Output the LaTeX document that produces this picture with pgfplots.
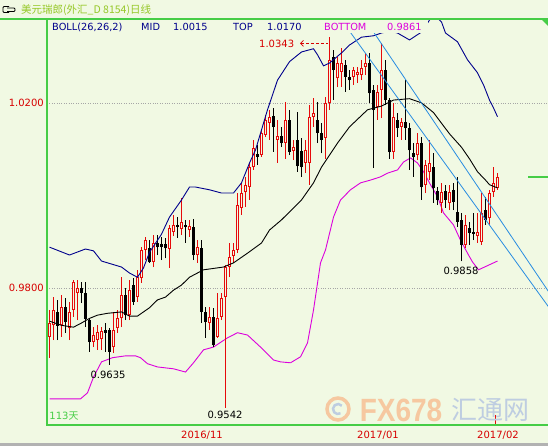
\documentclass[border=0pt]{standalone}
\usepackage{pgfplots}
\pgfplotsset{compat=1.18}
\usepackage{pgfplotstable}
\usepackage{fontspec}
\setmainfont{DejaVu Sans}
\newfontfamily\cjk{Noto Sans CJK SC}
\newfontfamily\lib{Liberation Sans}
\usetikzlibrary{arrows.meta}

\definecolor{bgc}{RGB}{241,249,227}
\definecolor{framec}{RGB}{70,205,70}
\definecolor{cred}{RGB}{230,10,10}
\definecolor{axred}{RGB}{215,0,0}
\definecolor{navyc}{RGB}{0,0,140}
\definecolor{magen}{RGB}{220,0,220}
\definecolor{tblue}{RGB}{40,140,225}
\definecolor{titlec}{RGB}{150,200,40}
\definecolor{wmor}{RGB}{246,200,160}
\definecolor{wmbl}{RGB}{190,205,225}

% rising days (red, hollow): i open high low close
\pgfplotstableread{
i o h l c
0 0.9695 0.9753 0.9650 0.9725
1 0.9720 0.9781 0.9688 0.9753
3 0.9720 0.9785 0.9695 0.9760
5 0.9714 0.9771 0.9688 0.9749
6 0.9753 0.9818 0.9738 0.9814
7 0.9790 0.9818 0.9731 0.9800
11 0.9684 0.9716 0.9673 0.9699
12 0.9688 0.9720 0.9667 0.9706
13 0.9690 0.9716 0.9667 0.9708
16 0.9673 0.9749 0.9660 0.9710
17 0.9714 0.9753 0.9704 0.9735
18 0.9735 0.9824 0.9716 0.9785
20 0.9742 0.9818 0.9731 0.9796
22 0.9781 0.9840 0.9771 0.9824
23 0.9822 0.9889 0.9812 0.9883
24 0.9883 0.9911 0.9861 0.9904
26 0.9857 0.9915 0.9846 0.9898
30 0.9885 0.9937 0.9844 0.9930
31 0.9922 0.9959 0.9913 0.9937
33 0.9928 0.9995 0.9915 0.9944
35 0.9926 0.9948 0.9911 0.9935
37 0.9872 0.9904 0.9855 0.9889
40 0.9725 0.9760 0.9710 0.9738
42 0.9695 0.9790 0.9693 0.9735
43 0.9738 0.9790 0.9731 0.9779
44 0.9781 0.9850 0.9542 0.9846
45 0.9846 0.9898 0.9824 0.9868
46 0.9870 0.9898 0.9855 0.9883
47 0.9883 1.0006 0.9876 0.9980
48 0.9974 1.0028 0.9959 1.0006
49 1.0008 1.0041 0.9976 1.0024
50 1.0019 1.0071 0.9991 1.0062
51 1.0062 1.0121 1.0056 1.0103
53 1.0088 1.0142 1.0084 1.0136
54 1.0132 1.0175 1.0127 1.0164
55 1.0158 1.0186 1.0121 1.0171
57 1.0121 1.0164 1.0071 1.0129
59 1.0114 1.0203 1.0080 1.0164
61 1.0097 1.0121 1.0077 1.0105
64 1.0071 1.0121 1.0049 1.0099
65 1.0071 1.0196 1.0024 1.0171
66 1.0171 1.0212 1.0149 1.0180
69 1.0125 1.0214 1.0080 1.0201
70 1.0201 1.0343 1.0186 1.0294
72 1.0254 1.0300 1.0235 1.0287
73 1.0268 1.0320 1.0235 1.0287
76 1.0257 1.0279 1.0240 1.0272
77 1.0261 1.0279 1.0244 1.0268
78 1.0261 1.0294 1.0250 1.0276
79 1.0279 1.0309 1.0261 1.0287
82 1.0192 1.0240 1.0164 1.0225
83 1.0229 1.0331 1.0168 1.0272
86 1.0095 1.0201 1.0080 1.0171
88 1.0149 1.0168 1.0121 1.0160
92 1.0088 1.0136 1.0077 1.0114
94 1.0024 1.0077 1.0006 1.0067
95 1.0052 1.0121 1.0034 1.0071
98 0.9985 1.0028 0.9963 1.0009
100 0.9985 1.0024 0.9969 1.0009
104 0.9894 0.9959 0.9887 0.9937
107 0.9913 0.9963 0.9898 0.9922
108 0.9900 1.0006 0.9894 0.9963
110 0.9952 1.0013 0.9937 1.0006
111 1.0009 1.0062 0.9998 1.0028
112 1.0017 1.0049 1.0013 1.0041
}\upcandles

% falling days (black, filled)
\pgfplotstableread{
i o h l c
2 0.9749 0.9775 0.9688 0.9720
4 0.9760 0.9779 0.9704 0.9727
8 0.9800 0.9814 0.9768 0.9790
9 0.9790 0.9814 0.9716 0.9735
10 0.9731 0.9735 0.9663 0.9684
14 0.9710 0.9725 0.9663 0.9704
15 0.9710 0.9714 0.9635 0.9663
19 0.9785 0.9800 0.9731 0.9742
21 0.9807 0.9822 0.9764 0.9771
25 0.9887 0.9904 0.9855 0.9857
27 0.9898 0.9915 0.9872 0.9889
28 0.9895 0.9911 0.9861 0.9889
29 0.9895 0.9909 0.9865 0.9887
32 0.9937 0.9954 0.9909 0.9933
34 0.9937 0.9948 0.9898 0.9933
36 0.9933 0.9950 0.9861 0.9872
38 0.9887 0.9904 0.9725 0.9749
39 0.9749 0.9760 0.9693 0.9727
41 0.9738 0.9758 0.9673 0.9677
52 1.0090 1.0110 1.0067 1.0084
56 1.0171 1.0190 1.0095 1.0149
58 1.0129 1.0149 1.0105 1.0114
60 1.0164 1.0186 1.0088 1.0095
62 1.0121 1.0182 1.0052 1.0064
63 1.0097 1.0125 1.0041 1.0062
67 1.0164 1.0203 1.0114 1.0136
68 1.0136 1.0158 1.0092 1.0121
71 1.0300 1.0315 1.0207 1.0272
74 1.0283 1.0294 1.0225 1.0257
75 1.0257 1.0272 1.0229 1.0250
80 1.0287 1.0309 1.0201 1.0222
81 1.0229 1.0240 1.0060 1.0186
84 1.0272 1.0294 1.0196 1.0207
85 1.0207 1.0212 1.0080 1.0095
87 1.0164 1.0180 1.0127 1.0147
89 1.0160 1.0250 1.0121 1.0147
90 1.0147 1.0158 1.0056 1.0099
91 1.0092 1.0114 1.0041 1.0084
93 1.0114 1.0127 0.9991 1.0019
96 1.0062 1.0092 0.9985 1.0017
97 1.0009 1.0019 0.9980 0.9991
99 1.0009 1.0024 0.9974 0.9991
101 1.0013 1.0028 0.9969 0.9987
102 0.9965 1.0041 0.9933 0.9944
103 0.9948 0.9963 0.9858 0.9894
105 0.9930 0.9944 0.9894 0.9920
106 0.9922 0.9963 0.9904 0.9918
109 0.9969 0.9998 0.9937 0.9948
}\downcandles

\begin{document}
\begin{tikzpicture}[x=1pt,y=1pt]
\fill[bgc] (0,0) rectangle (548,446);
\path[use as bounding box] (0,0) rectangle (548,446);

\begin{axis}[at={(47pt,21pt)}, anchor=south west, scale only axis,
  width=501pt, height=406pt,
  xmin=-0.625, xmax=124.625, ymin=0.95045, ymax=1.03823,
  axis line style={draw=none}, xtick=\empty,
  ytick={0.98,1.02}, yticklabels={0.9800,1.0200},
  major tick length=0pt,
  yticklabel style={text=axred, font=\fontsize{10}{12}\selectfont, inner sep=0pt, xshift=-3pt},
  ymajorgrids, grid style={gray!70, dotted, line width=0.6pt}]

% Bollinger bands (lower first)
\addplot[magen, line width=0.9pt, mark=none] coordinates {
(0,0.9561) (7.75,0.9561) (9.5,0.9574) (11,0.9608) (13,0.9641) (15.75,0.9650) (19,0.9654) (21.5,0.9654) (22.75,0.9650) (24.5,0.9637) (27,0.9630) (31,0.9626) (34,0.9619) (36,0.9639) (38.5,0.9667) (41,0.9673) (44.5,0.9693) (47,0.9704) (49.5,0.9699) (52.75,0.9673) (56,0.9645) (57.75,0.9641) (60.25,0.9639) (62.75,0.9652) (64.5,0.9682) (66,0.9753) (67.75,0.9855) (69,0.9883) (71,0.9954) (72.75,0.9991) (75.25,1.0013) (77.75,1.0028) (80.25,1.0034) (82.75,1.0041) (84.5,1.0049) (87,1.0056) (88.5,1.0073) (90.25,1.0082) (92,1.0071) (93.5,1.0052) (95.25,1.0024) (97,0.9998) (98.5,0.9963) (101,0.9937) (102.75,0.9904) (104.5,0.9876) (105.75,0.9857) (107.25,0.9840) (109.75,0.9850) (112,0.9859)};

% rising candles: wick, red body, hollow inside
\addplot[cred, line width=1pt, mark=none, forget plot, quiver={u=0, v=\thisrow{h}-\thisrow{l}}]
  table[x=i, y=l] {\upcandles};
\addplot[cred, line width=3pt, mark=none, forget plot, quiver={u=0, v=\thisrow{c}-\thisrow{o}}]
  table[x=i, y=o] {\upcandles};
\addplot[bgc, line width=1pt, mark=none, forget plot, quiver={u=0, v=\thisrow{c}-\thisrow{o}-0.00044}]
  table[x=i, y expr=\thisrow{o}+0.00022] {\upcandles};
% falling candles
\addplot[black, line width=1pt, mark=none, forget plot, quiver={u=0, v=\thisrow{h}-\thisrow{l}}]
  table[x=i, y=l] {\downcandles};
\addplot[black, line width=3pt, mark=none, forget plot, quiver={u=0, v=\thisrow{o}-\thisrow{c}+0.0001}]
  table[x=i, y expr=\thisrow{c}-0.00005] {\downcandles};

\addplot[navyc, line width=0.9pt, mark=none] coordinates {
(0,0.9889) (5,0.9872) (9,0.9885) (11,0.9881) (13,0.9859) (18,0.9846) (20,0.9833) (22,0.9824) (23.5,0.9844) (25,0.9878) (28,0.9917) (30,0.9954) (33,0.9991) (35,1.0019) (36.5,1.0019) (40,1.0013) (43,1.0006) (46,1.0006) (48,1.0028) (50,1.0071) (51.5,1.0099) (54.5,1.0186) (57,1.0250) (60,1.0290) (63,1.0311) (66,1.0318) (67,1.0305) (68.5,1.0281) (70,1.0287) (73,1.0309) (75,1.0326) (78,1.0343) (81,1.0346) (83,1.0352) (85,1.0356) (87,1.0352) (90,1.0337) (93,1.0354) (96,1.0393) (98,1.0376) (99,1.0352) (102,1.0333) (104.5,1.0294) (107,1.0266) (108.5,1.0240) (110,1.0207) (111,1.0190) (112,1.0171)};
\addplot[black, line width=0.9pt, mark=none] coordinates {
(0,0.9729) (3,0.9720) (6,0.9716) (8,0.9725) (10,0.9735) (12,0.9742) (14.5,0.9746) (18,0.9749) (20,0.9740) (22,0.9740) (25,0.9758) (27,0.9775) (29,0.9781) (31,0.9796) (33,0.9807) (35,0.9824) (38.5,0.9840) (43.5,0.9846) (46,0.9855) (49.5,0.9876) (53,0.9898) (55,0.9926) (58,0.9948) (63,0.9991) (66,1.0028) (68,1.0062) (72,1.0114) (75,1.0149) (79.5,1.0186) (83,1.0194) (86,1.0207) (90,1.0210) (93,1.0201) (96,1.0180) (100,1.0134) (103,1.0105) (105,1.0080) (107,1.0052) (109,1.0034) (110,1.0024) (112,1.0017)};

% trend channel
\addplot[tblue, line width=0.8pt, mark=none] coordinates {(73,1.0380) (124.75,0.9760)};
\addplot[tblue, line width=0.8pt, mark=none] coordinates {(79,1.0380) (124.75,0.9793)};
\end{axis}

% frame
\draw[framec, line width=1.2pt] (0,427) -- (548,427);
\draw[framec, line width=1.2pt] (47,427) -- (47,21) -- (548,21);
\fill[framec] (541,427) -- (548,427) -- (548,420) -- cycle;
\fill[gray!60] (0,0) rectangle (548,3);
\draw[framec, line width=1.5pt] (528,269) -- (548,269);
\draw[cred, line width=1pt] (495.5,31) -- (495.5,22);

% title row
\draw[black, line width=0.9pt, rounded corners=1pt] (9,439.5) -- (3,439.5) -- (3,433.5) -- (9,433.5);
\draw[black, line width=0.9pt, rounded corners=1pt] (7,438) -- (15,438) -- (15,434.5) -- (7,434.5);
\node[anchor=west, text=titlec, font=\cjk\fontsize{10.5}{12}\selectfont, inner sep=0pt] at (21,436) {美元瑞郎(外汇\_D 8154)日线};

% BOLL row (opaque boxes cover the lines beneath)
\fill[bgc] (50,413) rectangle (137,426.3);
\fill[bgc] (139,413) rectangle (215,426.3);
\fill[bgc] (231,413) rectangle (309,426.3);
\fill[bgc] (322,413) rectangle (428,426.3);
\begin{scope}[every node/.style={anchor=west, inner sep=0pt, font=\fontsize{9.8}{12}\selectfont}]
\node[text=navyc] at (52,419) {BOLL(26,26,2)};
\node[text=navyc] at (141,419) {MID};
\node[text=navyc] at (173,419) {1.0015};
\node[text=navyc] at (233,419) {TOP};
\node[text=navyc] at (267,419) {1.0170};
\node[text=magen] at (324,419) {BOTTOM};
\node[text=magen] at (387,419) {0.9861};
\end{scope}

% annotations
\node[anchor=west, text=axred, inner sep=0pt, font=\fontsize{10}{12}\selectfont] at (259,402) {1.0343};
\draw[axred, densely dashed, line width=0.7pt, {Straight Barb[length=3pt]}-] (300,402.5) -- (328,402.5);
\node[text=black, inner sep=0pt, font=\fontsize{10}{12}\selectfont] at (108,71) {0.9635};
\node[text=black, inner sep=0pt, font=\fontsize{10}{12}\selectfont] at (225,31) {0.9542};
\node[text=black, inner sep=0pt, font=\fontsize{10}{12}\selectfont] at (461,175) {0.9858};
\node[text=framec, inner sep=0pt, font=\fontsize{10}{12}\selectfont] at (64,30) {113\cjk 天};

% dates
\node[text=axred, inner sep=0pt, font=\fontsize{10}{12}\selectfont] at (202,11) {2016/11};
\node[text=axred, inner sep=0pt, font=\fontsize{10}{12}\selectfont] at (378,11) {2017/01};
\node[text=axred, inner sep=0pt, font=\fontsize{10}{12}\selectfont] at (498,11) {2017/02};

% watermark
\draw[wmor, line width=3.5pt] (338,37) circle (11);
\draw[wmbl, line width=2.5pt] (338,37) ++(40:5) arc (40:300:5);
\node[text=wmor, inner sep=0pt, font=\lib\bfseries\fontsize{28}{30}\selectfont, yscale=1.15] at (401,36) {FX678};
\node[text=wmbl, inner sep=0pt, font=\cjk\fontsize{26}{28}\selectfont] at (490,36) {汇通网};
\end{tikzpicture}
\end{document}
